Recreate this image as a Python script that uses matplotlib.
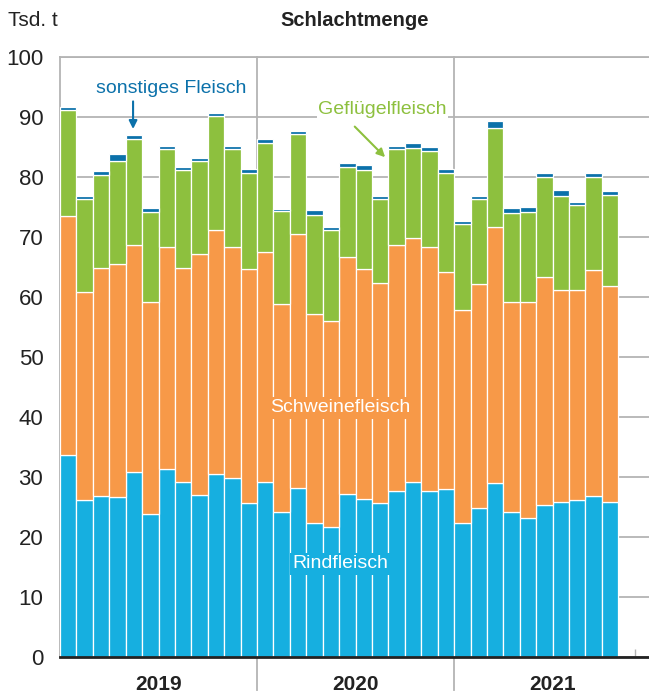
import matplotlib
matplotlib.use("Agg")
import matplotlib.pyplot as plt
import matplotlib.transforms as mtransforms
import numpy as np

plt.rcParams['font.family'] = ['Liberation Sans', 'DejaVu Sans']

# Monatswerte Jan 2019 - Okt 2021, Tsd. t
rind = [33.7, 26.1, 26.9, 26.7, 30.8, 23.9, 31.4, 29.1, 27.0, 30.5, 29.8, 25.7,
        29.1, 24.2, 28.2, 22.3, 21.6, 27.1, 26.4, 25.7, 27.6, 29.1, 27.6, 28.0,
        22.3, 24.9, 29.0, 24.1, 23.1, 25.4, 25.9, 26.2, 26.9, 25.8]
schwein = [39.8, 34.8, 37.9, 38.8, 37.8, 35.3, 36.9, 35.8, 40.1, 40.7, 38.6, 38.9,
           38.4, 34.7, 42.3, 34.8, 34.4, 39.5, 38.2, 36.6, 41.0, 40.7, 40.8, 36.1,
           35.5, 37.2, 42.6, 35.0, 36.0, 37.9, 35.3, 35.0, 37.6, 36.0]
gefluegel = [17.7, 15.4, 15.6, 17.2, 17.8, 15.0, 16.4, 16.2, 15.5, 18.9, 16.2, 16.1,
             18.1, 15.5, 16.6, 16.5, 15.1, 15.1, 16.5, 14.1, 16.0, 15.0, 15.9, 16.6,
             14.4, 14.2, 16.6, 14.9, 15.1, 16.7, 15.6, 14.2, 15.5, 15.2]
sonstige = [0.5, 0.5, 0.6, 1.2, 0.6, 0.6, 0.5, 0.6, 0.6, 0.6, 0.6, 0.7,
            0.8, 0.3, 0.6, 0.9, 0.5, 0.7, 0.9, 0.5, 0.5, 0.8, 0.7, 0.7,
            0.5, 0.5, 1.1, 0.8, 0.8, 0.7, 1.0, 0.4, 0.6, 0.7]
jahre = ["2019", "2020", "2021"]

c_rind = "#16afe0"
c_schwein = "#f79948"
c_gefl = "#8dc03e"
c_sonst = "#0b71aa"
c_grid = "#b4b4b4"

fig = plt.figure(figsize=(6.49, 6.96), dpi=100)
ax = fig.add_axes([60/649, 39/696, 589/649, 600/696])

x = np.arange(len(rind)) + 0.5
r = np.array(rind)
s = np.array(schwein)
g = np.array(gefluegel)
o = np.array(sonstige)

kw = dict(width=1.0, edgecolor="white", linewidth=0.9, zorder=3)
ax.bar(x, r, color=c_rind, **kw)
ax.bar(x, s, bottom=r, color=c_schwein, **kw)
ax.bar(x, g, bottom=r+s, color=c_gefl, **kw)
ax.bar(x, o, bottom=r+s+g, color=c_sonst, **kw)

ax.set_xlim(0, 35.87)
ax.set_ylim(0, 100)
ax.set_yticks(np.arange(0, 101, 10))
ax.yaxis.grid(True, color=c_grid, linewidth=1.3, zorder=0)
ax.set_axisbelow(True)
ax.tick_params(axis='y', length=0, pad=12, labelsize=16, colors="#222222")
ax.set_xticks([])
ax.set_xticks([35], minor=True)
ax.tick_params(axis='x', which='minor', direction='in', length=6, width=1, color=c_grid)
ax.set_xticklabels([], minor=True)

ax.spines["right"].set_visible(False)
ax.spines["top"].set_color(c_grid)
ax.spines["top"].set_linewidth(1.3)
ax.spines["left"].set_color(c_grid)
ax.spines["left"].set_linewidth(1.3)
ax.spines["bottom"].set_color("#222222")
ax.spines["bottom"].set_linewidth(2)
ax.spines["bottom"].set_zorder(5)

# Jahrestrenner und Jahresbeschriftung
trans = mtransforms.blended_transform_factory(ax.transData, ax.transAxes)
for i, j in enumerate(jahre):
    if i > 0:
        ax.plot([12*i, 12*i], [-0.055, 1], transform=trans, color=c_grid,
                linewidth=1.3, clip_on=False, zorder=1)
    ax.text(12*i + 6, -0.046, j, transform=trans, ha="center", va="center",
            fontsize=15, fontweight="bold", color="#222222")

# Beschriftungen
ax.text(17.05, 41.5, "Schweinefleisch", ha="center", va="center", fontsize=14,
        color="white", zorder=6,
        bbox=dict(facecolor=c_schwein, edgecolor="none", pad=1.5))
ax.text(17.05, 15.5, "Rindfleisch", ha="center", va="center", fontsize=14,
        color="white", zorder=6,
        bbox=dict(facecolor=c_rind, edgecolor="none", pad=1.5))

ax.text(6.8, 94.8, "sonstiges Fleisch", ha="center", va="center", fontsize=14,
        color=c_sonst, zorder=6,
        bbox=dict(facecolor="white", edgecolor="none", pad=1))
ax.annotate("", xy=(4.45, 88.0), xytext=(4.45, 92.6),
            arrowprops=dict(arrowstyle="-|>", color=c_sonst, lw=1.5,
                            mutation_scale=12, shrinkA=0, shrinkB=0),
            zorder=6)
ax.text(19.65, 91.2, "Geflügelfleisch", ha="center", va="center", fontsize=14,
        color=c_gefl, zorder=6,
        bbox=dict(facecolor="white", edgecolor="none", pad=1))
ax.annotate("", xy=(19.8, 83.3), xytext=(17.95, 88.4),
            arrowprops=dict(arrowstyle="-|>", color=c_gefl, lw=1.5,
                            mutation_scale=12, shrinkA=0, shrinkB=0),
            zorder=6)

fig.text(8/649, 1 - 20/696, "Tsd. t", ha="left", va="center", fontsize=15,
         color="#222222")
fig.text(354.5/649, 1 - 20/696, "Schlachtmenge", ha="center", va="center",
         fontsize=14.5, fontweight="bold", color="#222222")

fig.savefig("out.png", dpi=100)
